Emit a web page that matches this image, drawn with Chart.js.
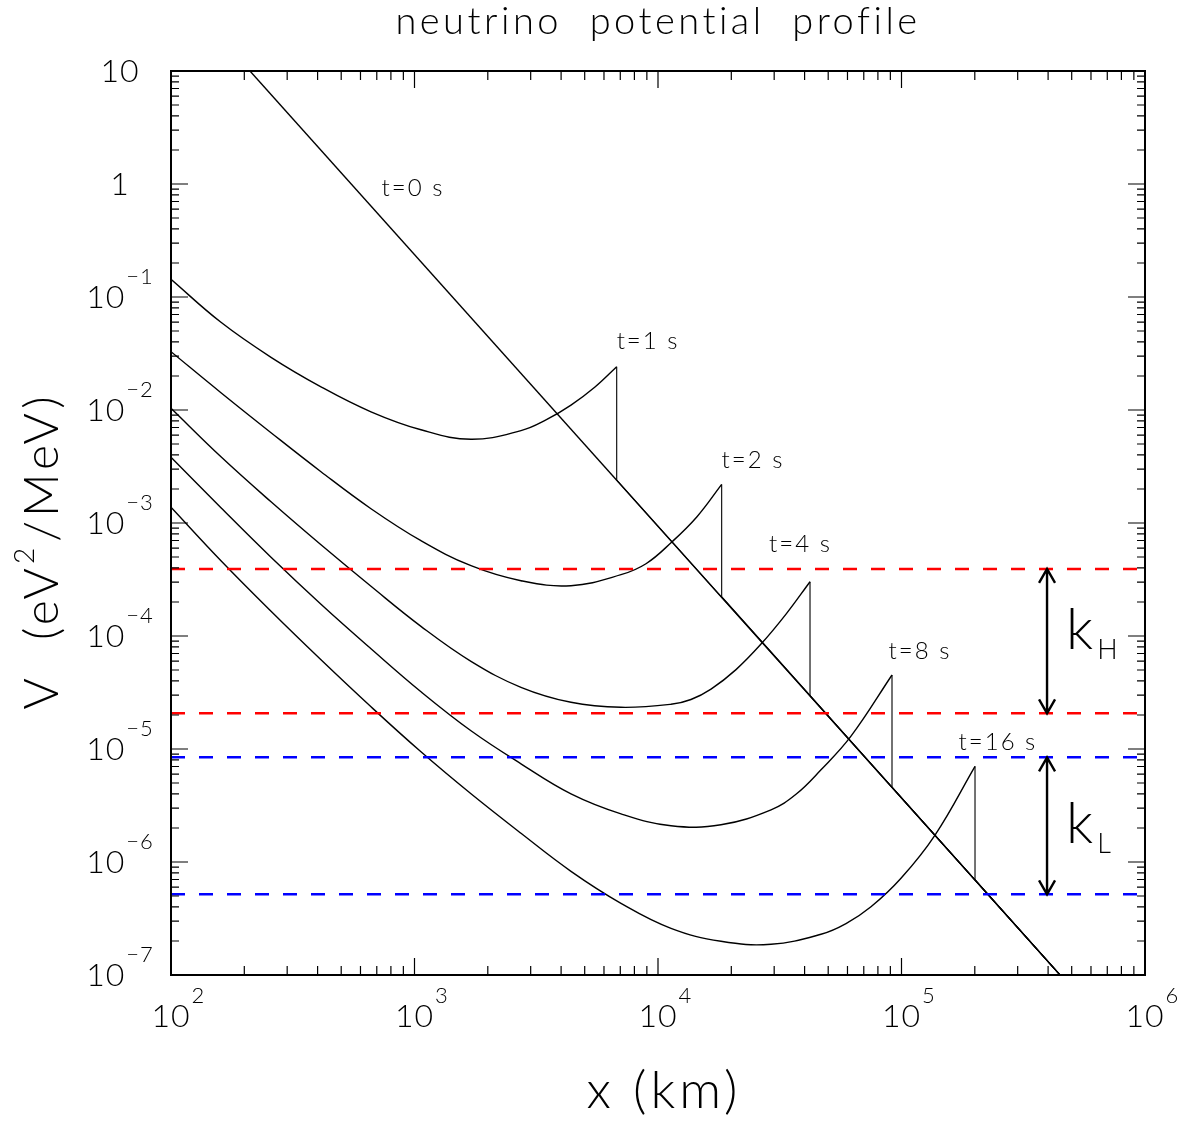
<!DOCTYPE html>
<html>
<head>
<meta charset="utf-8">
<script src="https://cdn.jsdelivr.net/npm/chart.js@4.4.0/dist/chart.umd.min.js"></script>
<style>
  body { margin: 0; background: #fff; }
</style>
</head>
<body>
<canvas id="myChart" width="1185" height="1126"></canvas>
<script>
// values: x in km, V in eV^2/MeV
var xRange = [100, 1e6];
var yRange = [1e-7, 10];

// static (t=0) profile, a straight line in log-log
var t0X = [211, 448000];
var t0V = [10, 1e-7];

// shocked profiles, smooth part up to the shock front
var t1X = [100, 160.4, 257.5, 413, 662.7, 1063, 1706, 2737, 3467, 4392, 5511, 6767];
var t1V = [0.1434, 0.05971, 0.02927, 0.01604, 0.00964, 0.006681, 0.005503, 0.006573, 0.008173, 0.01105, 0.01598, 0.02416];
var t2X = [100, 160.4, 257.5, 413, 662.7, 1063, 1706, 2737, 4392, 7047, 8927, 11310, 14460, 18260];
var t2V = [0.0328, 0.01422, 0.006295, 0.002844, 0.001338, 0.0006974, 0.0004189, 0.0003086, 0.0002788, 0.0003487, 0.0004362, 0.000669, 0.001137, 0.002196];
var t4X = [100, 160.4, 257.5, 413, 662.7, 1063, 1706, 2737, 4392, 7047, 11310, 13660, 16510, 20910, 26490, 33560, 42100];
var t4V = [0.01035, 0.003853, 0.00154, 0.0006413, 0.0002754, 0.0001218, 5.972e-5, 3.516e-5, 2.59e-5, 2.339e-5, 2.486e-5, 2.742e-5, 3.389e-5, 5.042e-5, 8.482e-5, 0.0001562, 0.0003023];
var t8X = [100, 160.4, 257.5, 413, 662.7, 1063, 1706, 2737, 4392, 7047, 11310, 18140, 29120, 36870, 46710, 62030, 91410];
var t8V = [0.003814, 0.001363, 0.0004971, 0.0001908, 7.703e-5, 3.208e-5, 1.449e-5, 7.396e-6, 4.013e-6, 2.67e-6, 2.091e-6, 2.134e-6, 2.896e-6, 3.972e-6, 6.543e-6, 1.298e-5, 4.517e-5];
var t16X = [100, 160.4, 257.5, 413, 662.7, 1063, 1706, 2737, 4392, 7047, 11310, 18140, 29120, 46710, 59170, 74930, 99520, 137300, 200400];
var t16V = [0.001377, 0.0004628, 0.0001654, 6.157e-5, 2.363e-5, 9.445e-6, 4.013e-6, 1.795e-6, 8.273e-7, 4.311e-7, 2.59e-7, 1.987e-7, 1.869e-7, 2.292e-7, 2.85e-7, 4.013e-7, 7.175e-7, 1.73e-6, 7.026e-6];

// foot of each shock front, on the static profile
var shockBottom = [0.0024, 0.000223, 2.95e-5, 4.6e-6, 7.0e-7];

var curveLabels = ['t=0 s', 't=1 s', 't=2 s', 't=4 s', 't=8 s', 't=16 s'];
var labelX = [986, 9100, 24550, 38470, 119100, 248900];
var labelV = [0.922, 0.0404, 0.003614, 0.000652, 7.29e-5, 1.153e-5];

// resonance bands
var bandNames = ['H', 'L'];
var bandTop = [3.92e-4, 8.44e-6];
var bandBottom = [2.07e-5, 5.18e-7];
var bandColors = ['#ff0000', '#0000ff'];
var arrowX = 3.96e5;
var bandLabelV = [7.67e-5, 1.47e-6];

// tick labels
var xTickVals = [1e2, 1e3, 1e4, 1e5, 1e6];
var xTickExp = ['2', '3', '4', '5', '6'];
var yTickVals = [1e-7, 1e-6, 1e-5, 1e-4, 1e-3, 1e-2, 1e-1, 1, 10];
var yTickBase = ['10', '10', '10', '10', '10', '10', '10', '1', '10'];
var yTickExp = ['\u22127', '\u22126', '\u22125', '\u22124', '\u22123', '\u22122', '\u22121', '', ''];

var fam = "Lato, 'DejaVu Sans', sans-serif";

function pts(xs, vs) {
  return xs.map(function(x, i) { return {x: x, y: vs[i]}; });
}

var datasets = [];
for (var b = 0; b < bandTop.length; b++) {
  [bandTop[b], bandBottom[b]].forEach(function(v) {
    datasets.push({
      data: pts(xRange, [v, v]),
      borderColor: bandColors[b], borderWidth: 2.5, borderDash: [14, 14],
      pointRadius: 0, tension: 0
    });
  });
}

datasets.push({
  data: pts(t0X, t0V), borderColor: '#000', borderWidth: 1.4, pointRadius: 0, tension: 0
});

var profX = [t1X, t2X, t4X, t8X, t16X];
var profV = [t1V, t2V, t4V, t8V, t16V];
for (var i = 0; i < profX.length; i++) {
  var xs = profX[i], vs = profV[i], n = xs.length - 1;
  datasets.push({
    data: pts(xs, vs), borderColor: '#000', borderWidth: 1.4,
    pointRadius: 0, tension: 0.4
  });
  // shock front drop, then the unshocked tail
  datasets.push({
    data: pts([xs[n], xs[n], t0X[1]], [vs[n], shockBottom[i], t0V[1]]),
    borderColor: '#000', borderWidth: 1.1, pointRadius: 0, tension: 0
  });
}

function drawPow(ctx, base, exp, x0, baseY, expY) {
  ctx.textAlign = 'left';
  ctx.textBaseline = 'alphabetic';
  ctx.font = '300 32px ' + fam;
  ctx.fillText(base, x0, baseY);
  var w = ctx.measureText(base).width;
  if (exp) {
    ctx.font = '300 22px ' + fam;
    ctx.fillText(exp, x0 + w + 1, expY);
  }
}

function powWidth(ctx, base, exp) {
  ctx.font = '300 32px ' + fam;
  var w = ctx.measureText(base).width;
  if (exp) {
    ctx.font = '300 22px ' + fam;
    w += ctx.measureText(exp).width + 1;
  }
  return w;
}

var framePlugin = {
  id: 'frame',
  afterDraw: function(chart) {
    var ctx = chart.ctx, a = chart.chartArea;
    var sx = chart.scales.x, sy = chart.scales.y;
    ctx.save();
    ctx.strokeStyle = '#000';
    ctx.lineWidth = 1.2;
    ctx.beginPath();
    for (var d = 0; d < xTickVals.length; d++) {
      for (var k = 1; k <= 9; k++) {
        if (d === xTickVals.length - 1 && k > 1) break;
        var px = sx.getPixelForValue(k * xTickVals[d]);
        var len = k === 1 ? 17 : 9;
        ctx.moveTo(px, a.bottom); ctx.lineTo(px, a.bottom - len);
        ctx.moveTo(px, a.top); ctx.lineTo(px, a.top + len);
      }
    }
    for (var e = 0; e < yTickVals.length; e++) {
      for (var k2 = 1; k2 <= 9; k2++) {
        if (e === yTickVals.length - 1 && k2 > 1) break;
        var py = sy.getPixelForValue(k2 * yTickVals[e]);
        var len2 = k2 === 1 ? 17 : 8;
        ctx.moveTo(a.left, py); ctx.lineTo(a.left + len2, py);
        ctx.moveTo(a.right, py); ctx.lineTo(a.right - len2, py);
      }
    }
    ctx.stroke();

    ctx.lineWidth = 2;
    ctx.strokeRect(a.left, a.top, a.right - a.left, a.bottom - a.top);

    // arrows between resonance lines
    ctx.lineWidth = 2.4;
    var ax = sx.getPixelForValue(arrowX);
    for (var b = 0; b < bandTop.length; b++) {
      var y1 = sy.getPixelForValue(bandTop[b]);
      var y2 = sy.getPixelForValue(bandBottom[b]);
      ctx.beginPath();
      ctx.moveTo(ax, y1); ctx.lineTo(ax, y2);
      ctx.moveTo(ax - 8, y1 + 14); ctx.lineTo(ax, y1); ctx.lineTo(ax + 8, y1 + 14);
      ctx.moveTo(ax - 8, y2 - 14); ctx.lineTo(ax, y2); ctx.lineTo(ax + 8, y2 - 14);
      ctx.stroke();

      var ly = sy.getPixelForValue(bandLabelV[b]);
      ctx.fillStyle = '#000';
      ctx.textAlign = 'left';
      ctx.textBaseline = 'alphabetic';
      ctx.font = '300 57px ' + fam;
      ctx.fillText('k', ax + 19, ly);
      var kw = ctx.measureText('k').width;
      ctx.font = '300 27px ' + fam;
      ctx.fillText(bandNames[b], ax + 19 + kw + 4, ly + 10);
    }

    ctx.fillStyle = '#000';
    // curve labels
    ctx.font = '300 24px ' + fam;
    ctx.letterSpacing = '2px';
    ctx.textAlign = 'center';
    ctx.textBaseline = 'middle';
    for (var c = 0; c < curveLabels.length; c++) {
      ctx.fillText(curveLabels[c], sx.getPixelForValue(labelX[c]), sy.getPixelForValue(labelV[c]));
    }

    // tick labels
    ctx.letterSpacing = '1px';
    for (var t = 0; t < xTickVals.length; t++) {
      var tx = sx.getPixelForValue(xTickVals[t]);
      ctx.font = '300 32px ' + fam;
      var bw = ctx.measureText('10').width;
      drawPow(ctx, '10', xTickExp[t], tx - bw / 2, a.bottom + 52, a.bottom + 28);
    }
    for (var u = 0; u < yTickVals.length; u++) {
      var ty = sy.getPixelForValue(yTickVals[u]);
      var w = powWidth(ctx, yTickBase[u], yTickExp[u]);
      drawPow(ctx, yTickBase[u], yTickExp[u], a.left - 51 - w / 2, ty + 11, ty - 13);
    }

    // titles
    var cx = (a.left + a.right) / 2;
    ctx.textAlign = 'center';
    ctx.textBaseline = 'middle';
    ctx.font = '300 38px ' + fam;
    ctx.letterSpacing = '3.5px';
    ctx.fillText('neutrino  potential  profile', cx, 22);

    ctx.font = '300 52px ' + fam;
    ctx.letterSpacing = '4px';
    ctx.textBaseline = 'alphabetic';
    ctx.fillText('x (km)', cx + 6, 1108);

    // y title, rotated, with a raised 2
    ctx.save();
    ctx.translate(58, 552);
    ctx.rotate(-Math.PI / 2);
    ctx.textAlign = 'left';
    var p1 = 'V  (eV', p2 = '2', p3 = '/MeV)';
    ctx.font = '300 48px ' + fam;
    var w1 = ctx.measureText(p1).width, w3 = ctx.measureText(p3).width;
    ctx.font = '300 28px ' + fam;
    var w2 = ctx.measureText(p2).width;
    var x0 = -(w1 + w2 + w3) / 2;
    ctx.font = '300 48px ' + fam;
    ctx.fillText(p1, x0, 0);
    ctx.font = '300 28px ' + fam;
    ctx.fillText(p2, x0 + w1, -24);
    ctx.font = '300 48px ' + fam;
    ctx.fillText(p3, x0 + w1 + w2 + 2, 0);
    ctx.restore();

    ctx.restore();
  }
};

var ctx = document.getElementById('myChart').getContext('2d');
var chart = new Chart(ctx, {
  type: 'line',
  data: { datasets: datasets },
  options: {
    responsive: false,
    animation: false,
    layout: { padding: { left: 171, right: 40, top: 71, bottom: 151 } },
    plugins: { legend: { display: false }, tooltip: { enabled: false }, title: { display: false } },
    scales: {
      x: { type: 'logarithmic', min: xRange[0], max: xRange[1], display: false },
      y: { type: 'logarithmic', min: yRange[0], max: yRange[1], display: false }
    }
  },
  plugins: [framePlugin]
});
</script>
</body>
</html>
